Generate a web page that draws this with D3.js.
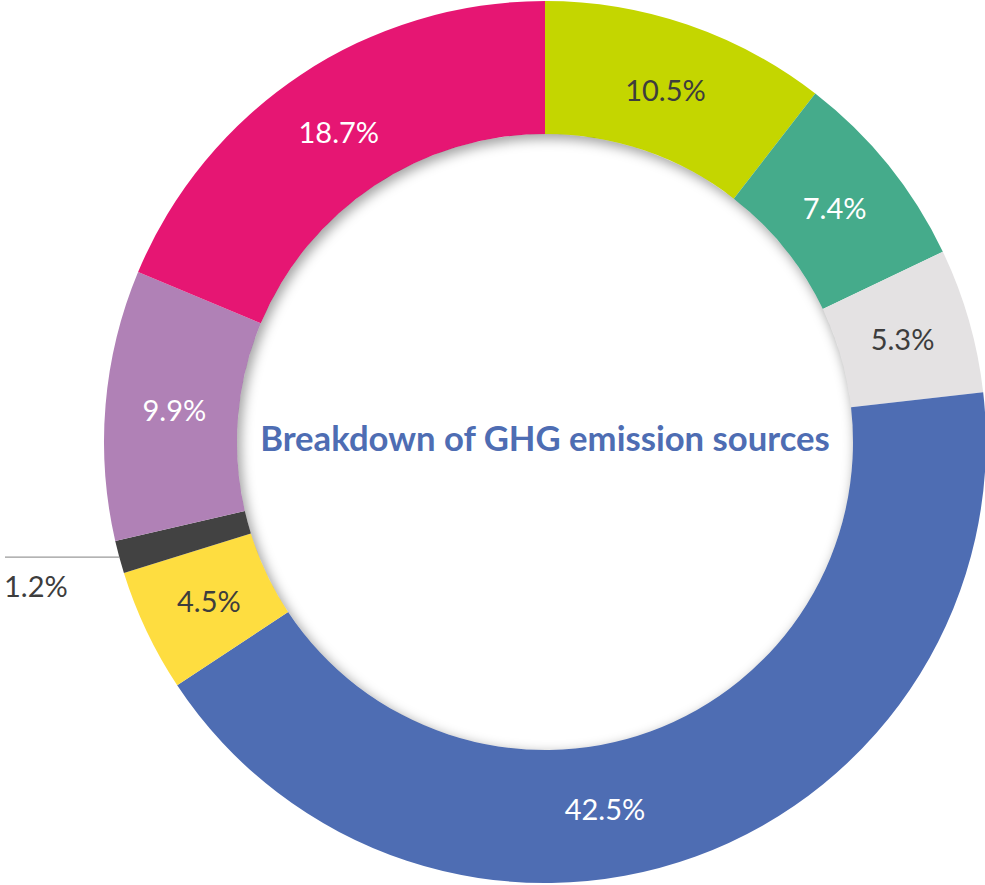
<!DOCTYPE html>
<html>
<head>
<meta charset="utf-8">
<script src="https://cdn.jsdelivr.net/npm/d3@7"></script>
<style>
  html, body { margin: 0; padding: 0; background: #fff; }
  svg { display: block; }
</style>
</head>
<body>
<svg id="chart" width="985" height="885"></svg>
<script>
// GHG emission sources, clockwise from 12 o'clock
const shares = [10.5, 7.4, 5.3, 42.5, 4.5, 1.2, 9.9, 18.7];
const labels = ["10.5%", "7.4%", "5.3%", "42.5%", "4.5%", "1.2%", "9.9%", "18.7%"];
const colors = ["#c4d600", "#45ab8b", "#e4e2e3", "#4e6db3", "#fedd40", "#424242", "#b081b6", "#e61673"];
const labelInk = ["#3d3d3d", "#ffffff", "#3d3d3d", "#ffffff", "#3d3d3d", "#3d3d3d", "#ffffff", "#ffffff"];
const title = "Breakdown of GHG emission sources";

const svg = d3.select("#chart");
const cx = 545, cy = 442, rOuter = 441, rInner = 308, rLabel = 372;

const pie = d3.pie().sort(null).value(d => d);
const arcs = pie(shares);
const arc = d3.arc().innerRadius(rInner).outerRadius(rOuter);

// the large slice's label sits further round than its mid-angle
const angleNudge = { 3: 10.7 * Math.PI / 180 };
function labelPos(d) {
  const a = (d.startAngle + d.endAngle) / 2 + (angleNudge[d.index] || 0);
  return [Math.sin(a) * rLabel, -Math.cos(a) * rLabel];
}

const defs = svg.append("defs");
defs.append("clipPath").attr("id", "hole")
  .append("circle").attr("r", rInner);
const blur = defs.append("filter").attr("id", "soft")
  .attr("x", "-20%").attr("y", "-20%").attr("width", "140%").attr("height", "140%");
blur.append("feGaussianBlur").attr("stdDeviation", 6);

const g = svg.append("g").attr("transform", `translate(${cx},${cy})`);

g.selectAll("path.slice")
  .data(arcs)
  .join("path")
  .attr("class", "slice")
  .attr("d", arc)
  .attr("fill", (d, i) => colors[i]);

// inset shadow cast by the ring onto the hole
g.append("g").attr("clip-path", "url(#hole)")
  .append("circle")
  .attr("cx", 3).attr("cy", 4)
  .attr("r", rInner + 10)
  .attr("fill", "none")
  .attr("stroke", "#000")
  .attr("stroke-opacity", 0.36)
  .attr("stroke-width", 22)
  .attr("filter", "url(#soft)");

const labelFont = "Lato, 'Noto Sans', sans-serif";

// in-ring percentage labels (the thin slice is labelled outside)
g.selectAll("text.pct")
  .data(arcs.filter((d, i) => i !== 5))
  .join("text")
  .attr("class", "pct")
  .attr("transform", d => `translate(${labelPos(d)})`)
  .attr("text-anchor", "middle")
  .attr("dy", "0.36em")
  .attr("font-family", labelFont)
  .attr("font-weight", 400)
  .attr("font-size", 29)
  .attr("fill", d => labelInk[d.index])
  .text(d => labels[d.index]);

// leader line and label for the thin slice
const thin = arcs[5];
const mid = (thin.startAngle + thin.endAngle) / 2;
const edgeX = Math.sin(mid) * rOuter;
const edgeY = -Math.cos(mid) * rOuter;
g.append("line")
  .attr("x1", 5 - cx).attr("x2", edgeX)
  .attr("y1", edgeY).attr("y2", edgeY)
  .attr("stroke", "#9a9a9a").attr("stroke-width", 1.2);
g.append("text")
  .attr("x", 4 - cx).attr("y", edgeY + 40)
  .attr("font-family", labelFont)
  .attr("font-size", 29)
  .attr("fill", "#3d3d3d")
  .text(labels[5]);

// centre title, sized to span the hole
const t = g.append("text")
  .attr("text-anchor", "middle")
  .attr("y", -3)
  .attr("dy", "0.35em")
  .attr("font-family", "Lato, 'Noto Sans', sans-serif")
  .attr("font-weight", 700)
  .attr("font-size", 30)
  .attr("fill", "#4e6db3")
  .text(title);
const w = t.node().getComputedTextLength();
t.attr("font-size", 30 * 570 / w);
</script>
</body>
</html>
